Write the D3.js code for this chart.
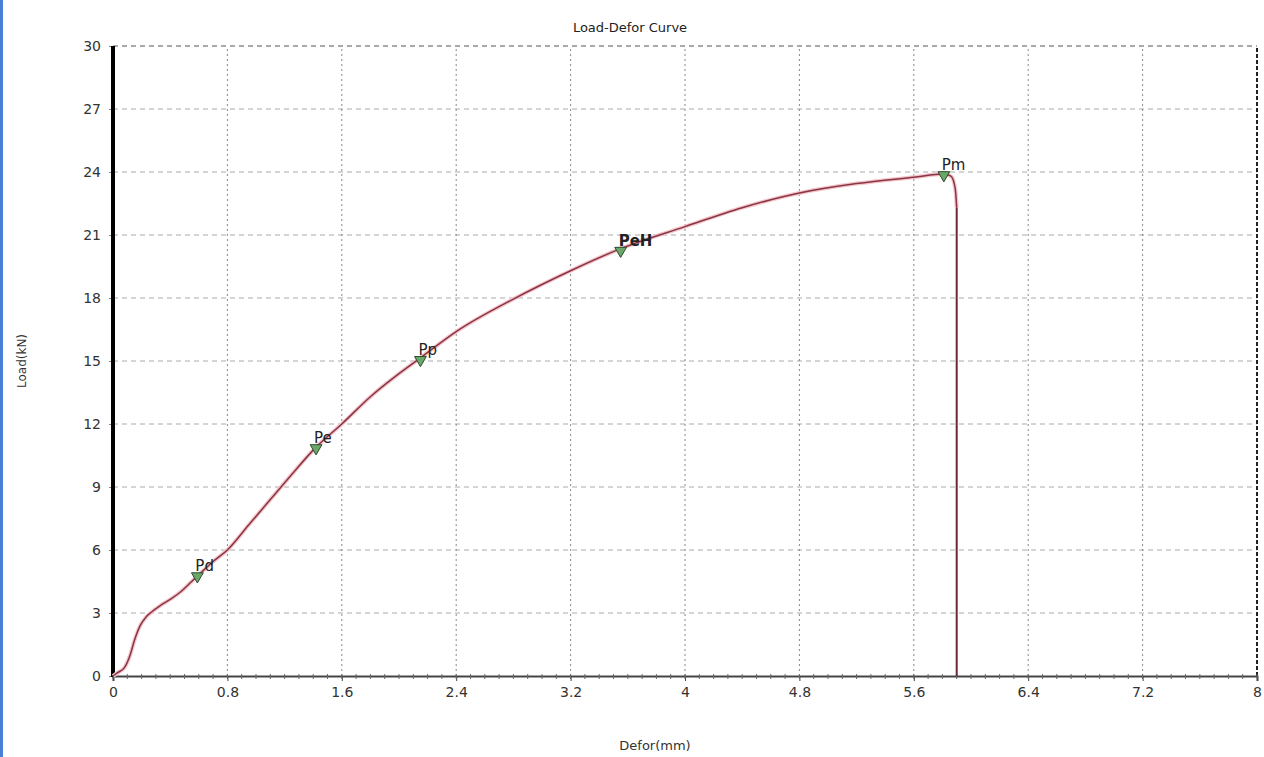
<!DOCTYPE html>
<html>
<head>
<meta charset="utf-8">
<script src="https://cdn.jsdelivr.net/npm/d3@7"></script>
<style>
  body { margin: 0; background: #fff; }
  #chart { display: block; }
  text { font-family: "DejaVu Sans", Arial, sans-serif; }
</style>
</head>
<body>
<svg id="chart"></svg>
<script>
// curve points
const deforValues = [0, 0.03, 0.08, 0.12, 0.15, 0.19, 0.23, 0.27, 0.33, 0.4, 0.48, 0.55, 0.62, 0.7, 0.8,
    0.95, 1.1, 1.25, 1.42, 1.6, 1.8, 2.0, 2.15, 2.4, 2.8, 3.2, 3.55, 4.0, 4.4, 4.8, 5.2, 5.6, 5.81, 5.86, 5.89, 5.9, 5.9];
const loadValues = [0, 0.15, 0.4, 1.0, 1.7, 2.4, 2.8, 3.05, 3.35, 3.65, 4.05, 4.5, 4.95, 5.45, 6.0,
    7.2, 8.4, 9.6, 10.9, 12.0, 13.3, 14.4, 15.15, 16.4, 17.95, 19.3, 20.35, 21.4, 22.3, 23.0, 23.45, 23.75, 23.9, 23.8, 23.2, 22.3, 0];

const markerNames = ["Pd", "Pe", "Pp", "PeH", "Pm"];
const markerDefor = [0.59, 1.42, 2.15, 3.55, 5.81];
const markerLoad = [4.8, 10.9, 15.1, 20.3, 23.9];

const xTicks = [0, 0.8, 1.6, 2.4, 3.2, 4, 4.8, 5.6, 6.4, 7.2, 8];
const yTicks = [0, 3, 6, 9, 12, 15, 18, 21, 24, 27, 30];

const width = 1264, height = 757;
const svg = d3.select("#chart").attr("width", width).attr("height", height);

// blue strip on the left edge
svg.append("rect").attr("x", 0).attr("y", 0).attr("width", 3).attr("height", height).attr("fill", "#4a7fd6");

const x = d3.scaleLinear().domain([0, 8]).range([113, 1257]);
const y = d3.scaleLinear().domain([0, 30]).range([676, 46]);

// grid
const grid = svg.append("g");
grid.selectAll("line.h").data(yTicks.slice(1))
    .join("line")
    .attr("x1", x(0)).attr("x2", x(8))
    .attr("y1", d => y(d)).attr("y2", d => y(d))
    .attr("stroke", d => d === 30 ? "#555" : "#aaa")
    .attr("stroke-width", 1)
    .attr("stroke-dasharray", "5,4");
grid.selectAll("line.v").data(xTicks.slice(1))
    .join("line")
    .attr("x1", d => x(d)).attr("x2", d => x(d))
    .attr("y1", y(0)).attr("y2", y(30))
    .attr("stroke", d => d === 8 ? "#222" : "#888")
    .attr("stroke-width", d => d === 8 ? 2 : 1)
    .attr("stroke-dasharray", d => d === 8 ? "4,2" : "2,3");

// x axis
const xAxis = d3.axisBottom(x).tickValues(xTicks).tickSize(5).tickPadding(6)
    .tickFormat(d => String(d));
const gx = svg.append("g").attr("transform", `translate(0,${y(0)})`).call(xAxis);
gx.select(".domain").attr("stroke", "#444").attr("stroke-width", 2);
gx.selectAll(".tick line").attr("stroke", "#444");
gx.selectAll(".tick text").attr("font-size", 14).attr("fill", "#333")
    .attr("font-family", "'DejaVu Sans', Arial, sans-serif");
// minor ticks on the x axis
gx.selectAll("line.minor").data(d3.range(0, 8.001, 0.1))
    .join("line").attr("class", "minor")
    .attr("x1", d => x(d)).attr("x2", d => x(d))
    .attr("y1", -2).attr("y2", 3)
    .attr("stroke", "#666");

// y axis
const yAxis = d3.axisLeft(y).tickValues(yTicks).tickSize(4).tickPadding(8);
const gy = svg.append("g").attr("transform", `translate(${x(0)},0)`).call(yAxis);
gy.select(".domain").remove();
gy.selectAll(".tick line").attr("stroke", "#888");
gy.selectAll(".tick text").attr("font-size", 14).attr("fill", "#333")
    .attr("font-family", "'DejaVu Sans', Arial, sans-serif");
svg.append("line")
    .attr("x1", x(0)).attr("x2", x(0))
    .attr("y1", y(30)).attr("y2", y(0) + 1)
    .attr("stroke", "#000").attr("stroke-width", 4);

// curve
const pts = deforValues.map((d, i) => [d, loadValues[i]]);
const line = d3.line().x(d => x(d[0])).y(d => y(d[1])).curve(d3.curveMonotoneX);
svg.append("path").datum(pts.slice(0, -1))
    .attr("d", line)
    .attr("fill", "none")
    .attr("stroke", "#f3c6cc")
    .attr("stroke-width", 4);
svg.append("path").datum(pts.slice(0, -1))
    .attr("d", line)
    .attr("fill", "none")
    .attr("stroke", "#8a3443")
    .attr("stroke-width", 1.5);
// final drop
const last = pts.length - 1;
svg.append("line")
    .attr("x1", x(pts[last - 1][0])).attr("x2", x(pts[last][0]))
    .attr("y1", y(pts[last - 1][1])).attr("y2", y(pts[last][1]))
    .attr("stroke", "#6a2a35").attr("stroke-width", 2);

// markers
const markers = markerNames.map((n, i) => ({name: n, x: markerDefor[i], y: markerLoad[i]}));
const mg = svg.append("g");
mg.selectAll("path").data(markers)
    .join("path")
    .attr("d", d3.symbol(d3.symbolTriangle, 60))
    .attr("transform", d => `translate(${x(d.x)},${y(d.y) + 1}) rotate(180)`)
    .attr("fill", "#6aa86a")
    .attr("stroke", "#2f4a2f")
    .attr("stroke-width", 1);
mg.selectAll("text").data(markers)
    .join("text")
    .attr("x", d => x(d.x) - 2)
    .attr("y", d => y(d.y) - 4)
    .attr("font-size", 15)
    .attr("font-weight", d => d.name === "PeH" ? "bold" : "normal")
    .attr("fill", "#222")
    .text(d => d.name);

// titles
svg.append("text").attr("x", 630).attr("y", 32).attr("text-anchor", "middle")
    .attr("font-size", 13).attr("fill", "#222").text("Load-Defor Curve");
svg.append("text").attr("x", 655).attr("y", 750).attr("text-anchor", "middle")
    .attr("font-size", 13).attr("fill", "#333").text("Defor(mm)");
svg.append("text").attr("transform", "translate(26,361) rotate(-90)").attr("text-anchor", "middle")
    .attr("font-size", 12).attr("fill", "#333").text("Load(kN)");
</script>
</body>
</html>
